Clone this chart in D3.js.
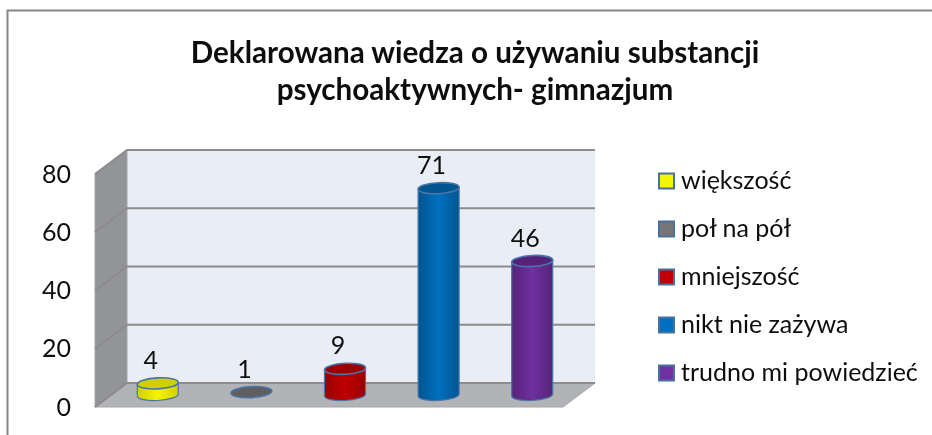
<!DOCTYPE html>
<html lang="pl">

<head>
    <meta charset="UTF-8">
    <title>Deklarowana wiedza</title>
    <style>
        html, body { margin: 0; padding: 0; background: #fff; overflow: hidden; }
        text { font-family: Lato, "Noto Sans", sans-serif; fill: #111; }
    </style>
</head>

<body>
    <script src="https://cdn.jsdelivr.net/npm/d3@7/dist/d3.min.js"></script>
    <script>
        const categories = ['większość', 'poł na pół', 'mniejszość', 'nikt nie zażywa', 'trudno mi powiedzieć'];
        const values = [4, 1, 9, 71, 46];
        const y_ticks = [0, 20, 40, 60, 80];
        const title_lines = ['Deklarowana wiedza o używaniu substancji', 'psychoaktywnych- gimnazjum'];
        const colors = ['#f5f500', '#777777', '#c00000', '#0070c0', '#7030a0'];
        const dark_colors = ['#d0d000', '#5f5f5f', '#980000', '#00558f', '#55247a'];

        const svg_w = 932;
        const svg_h = 435;

        // 3d box of the plot
        const depth_x = 32;
        const depth_y = 24;
        const back_l = 127, back_r = 595;
        const back_bottom = 383, back_top = 150;

        const x = d3.scaleBand().domain(categories).range([back_l - depth_x / 2, back_r - depth_x / 2]);
        const y = d3.scaleLinear().domain([0, 80]).range([back_bottom, back_top]);

        const svg = d3.select('body').append('svg')
            .attr('width', svg_w)
            .attr('height', svg_h)
            .style('display', 'block');

        const defs = svg.append('defs');
        const blur = defs.append('filter').attr('id', 'soft');
        blur.append('feGaussianBlur').attr('stdDeviation', 0.4);
        const text_blur = defs.append('filter').attr('id', 'soft_text');
        text_blur.append('feGaussianBlur').attr('stdDeviation', 0.3);

        colors.forEach((c, i) => {
            const g = defs.append('linearGradient').attr('id', 'bar_' + i);
            g.append('stop').attr('offset', '0%').attr('stop-color', dark_colors[i]);
            g.append('stop').attr('offset', '50%').attr('stop-color', c);
            g.append('stop').attr('offset', '100%').attr('stop-color', dark_colors[i]);
        });

        // outer frame, open on the right and at the bottom like the picture
        svg.append('path')
            .attr('d', 'M7.5,435V10.5H932')
            .attr('fill', 'none')
            .attr('stroke', '#868686')
            .attr('stroke-width', 2);

        svg.append('g').attr('filter', 'url(#soft_text)')
            .selectAll('text').data(title_lines).enter().append('text')
            .attr('x', 475)
            .attr('y', (d, i) => 63 + i * 36.5)
            .attr('text-anchor', 'middle')
            .attr('font-size', 29.6)
            .attr('font-weight', 700)
            .text(d => d);

        const plot = svg.append('g').attr('filter', 'url(#soft)');

        // back wall
        plot.append('rect')
            .attr('x', back_l)
            .attr('y', y(80))
            .attr('width', back_r - back_l)
            .attr('height', y(0) - y(80))
            .attr('fill', '#e9edf6');

        // left wall
        plot.append('path')
            .attr('d', `M${back_l},${y(80)}L${back_l - depth_x},${y(80) + depth_y}V${y(0) + depth_y}L${back_l},${y(0)}Z`)
            .attr('fill', '#929497')
            .attr('stroke', '#a6a6a6');

        // floor
        plot.append('path')
            .attr('d', `M${back_l},${y(0)}H${back_r}L${back_r - depth_x},${y(0) + depth_y}H${back_l - depth_x}Z`)
            .attr('fill', '#b1b3b6')
            .attr('stroke', '#a6a6a6');

        // grid lines run along the back wall and down the side wall
        y_ticks.forEach(t => {
            plot.append('path')
                .attr('d', `M${back_l - depth_x},${y(t) + depth_y}L${back_l},${y(t)}H${back_r}`)
                .attr('fill', 'none')
                .attr('stroke', '#8c8c8c')
                .attr('stroke-width', 2);
        });

        const bar_rx = 20.5;
        const bar_ry = 5.5;
        const base_off = 12;

        const bars = plot.selectAll('g.bar').data(values).enter().append('g').attr('class', 'bar');

        bars.each(function (d, i) {
            const cx = x(categories[i]) + x.bandwidth() / 2;
            const by = y(0) + base_off;
            const ty = y(d) + base_off;
            const g = d3.select(this);
            const tilt = `rotate(-3 ${cx} ${ty})`;

            if (d > 1) {
                g.append('path')
                    .attr('d', `M${cx - bar_rx},${ty + 1}V${by + 1}A${bar_rx},${bar_ry} -3 0 0 ${cx + bar_rx},${by - 1}V${ty - 1}Z`)
                    .attr('fill', `url(#bar_${i})`)
                    .attr('stroke', '#4a74a8')
                    .attr('stroke-width', 1.2);
            }
            g.append('ellipse')
                .attr('cx', cx)
                .attr('cy', ty)
                .attr('rx', bar_rx)
                .attr('ry', bar_ry)
                .attr('transform', tilt)
                .attr('fill', dark_colors[i])
                .attr('stroke', '#4a74a8')
                .attr('stroke-width', 1.6);
        });

        // value labels
        svg.append('g').attr('filter', 'url(#soft_text)')
            .selectAll('text').data(values).enter().append('text')
            .attr('x', (d, i) => x(categories[i]) + x.bandwidth() / 2 - 7)
            .attr('y', d => y(d) + base_off - 14.5)
            .attr('text-anchor', 'middle')
            .attr('font-size', 25)
            .text(d => d);

        // value axis on the front edge of the side wall
        const y_front = y.copy().range([back_bottom + depth_y, back_top + depth_y]);
        const axis = svg.append('g')
            .attr('filter', 'url(#soft_text)')
            .attr('transform', `translate(${back_l - depth_x - 24},0)`)
            .call(d3.axisLeft(y_front).tickValues(y_ticks).tickSize(0).tickPadding(0));
        axis.select('.domain').remove();
        axis.selectAll('text').attr('font-size', 25).style('font-family', 'Lato').attr('fill', '#111');

        // legend
        const legend_y = d3.scalePoint().domain(categories).range([181, 373]);
        const legend = svg.append('g').selectAll('g').data(categories).enter().append('g')
            .attr('filter', 'url(#soft_text)')
            .attr('transform', d => `translate(0,${legend_y(d)})`);

        legend.append('rect')
            .attr('x', 659)
            .attr('y', -7.5)
            .attr('width', 15)
            .attr('height', 15)
            .attr('fill', (d, i) => colors[i])
            .attr('stroke', '#4a6f9f')
            .attr('stroke-width', 2);

        legend.append('text')
            .attr('x', 681)
            .attr('y', 8)
            .attr('font-size', 25)
            .text(d => d);
    </script>
</body>

</html>
